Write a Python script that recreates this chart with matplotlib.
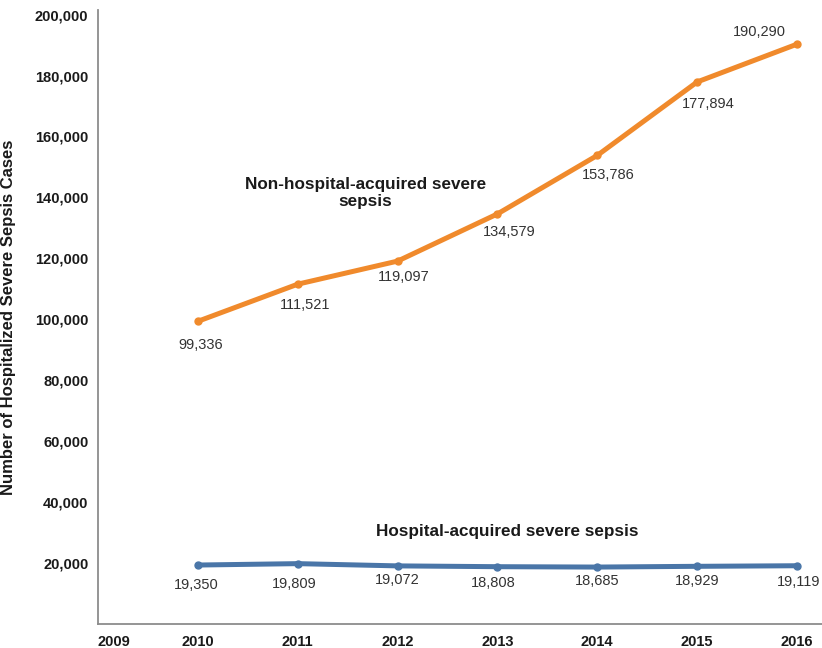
import numpy as np
import matplotlib
matplotlib.use("Agg")
import matplotlib.pyplot as plt
from matplotlib.ticker import FuncFormatter

plt.rcParams['font.family'] = ['Liberation Sans', 'DejaVu Sans']

years = [2010, 2011, 2012, 2013, 2014, 2015, 2016]
non_hospital = [99336, 111521, 119097, 134579, 153786, 177894, 190290]
hospital = [19350, 19809, 19072, 18808, 18685, 18929, 19119]
xtick_years = [2009, 2010, 2011, 2012, 2013, 2014, 2015, 2016]
ytick_vals = [20000, 40000, 60000, 80000, 100000, 120000, 140000, 160000, 180000, 200000]

# label offsets in pixels (dx, dy)
non_hosp_off = [(3, -24), (7, -21), (6, -16), (12, -18), (11, -20), (11, -22), (-38, 12)]
hosp_off = [(-2, -20), (-3, -20), (0, -14), (-4, -16), (0, -14), (0, -15), (2, -16)]

orange = '#F08A2C'
blue = '#4A76A8'

fig = plt.figure(figsize=(8.22, 6.48), dpi=100)
ax = fig.add_axes([98/822, 24/648, 724/822, 614/648])

ax.plot(years, non_hospital, color=orange, lw=3.6, marker='o', ms=5,
        solid_capstyle='round')
ax.plot(years, hospital, color=blue, lw=3.6, marker='o', ms=5,
        solid_capstyle='round')

for x, y, (dx, dy) in zip(years, non_hospital, non_hosp_off):
    ax.annotate(f"{y:,}", (x, y), xytext=(dx, dy), textcoords='offset pixels',
                ha='center', va='center', fontsize=10.5, color='#333333')
for x, y, (dx, dy) in zip(years, hospital, hosp_off):
    ax.annotate(f"{y:,}", (x, y), xytext=(dx, dy), textcoords='offset pixels',
                ha='center', va='center', fontsize=10.5, color='#333333')

ax.text(2011.68, 141500, "Non-hospital-acquired severe\nsepsis", ha='center',
        va='center', fontsize=12.3, fontweight='bold', color='#1a1a1a',
        linespacing=1.15)
ax.text(2013.1, 30500, "Hospital-acquired severe sepsis", ha='center',
        va='center', fontsize=12.3, fontweight='bold', color='#1a1a1a')

ax.set_xlim(2009, 2016.25)
ax.set_ylim(0, 201500)
ax.set_xticks(xtick_years)
ax.set_xticklabels([str(y) for y in xtick_years])
ax.get_xticklabels()[0].set_ha('left')
ax.set_yticks(ytick_vals)
ax.yaxis.set_major_formatter(FuncFormatter(lambda v, p: f"{int(v):,}"))

for lab in ax.get_xticklabels() + ax.get_yticklabels():
    lab.set_fontweight('bold')
    lab.set_fontsize(10.5)
    lab.set_color('#1a1a1a')
ax.tick_params(axis='both', length=0)
ax.tick_params(axis='y', pad=7)
ax.tick_params(axis='x', pad=8)

ax.spines['top'].set_visible(False)
ax.spines['right'].set_visible(False)
for s in ['left', 'bottom']:
    ax.spines[s].set_color('#8c8c8c')
    ax.spines[s].set_linewidth(1.3)

ax.set_ylabel("Number of Hospitalized Severe Sepsis Cases", fontsize=12,
              fontweight='bold', color='#1a1a1a')
ax.yaxis.set_label_coords(-0.113, 0.5)

fig.savefig("out.png", dpi=100)
